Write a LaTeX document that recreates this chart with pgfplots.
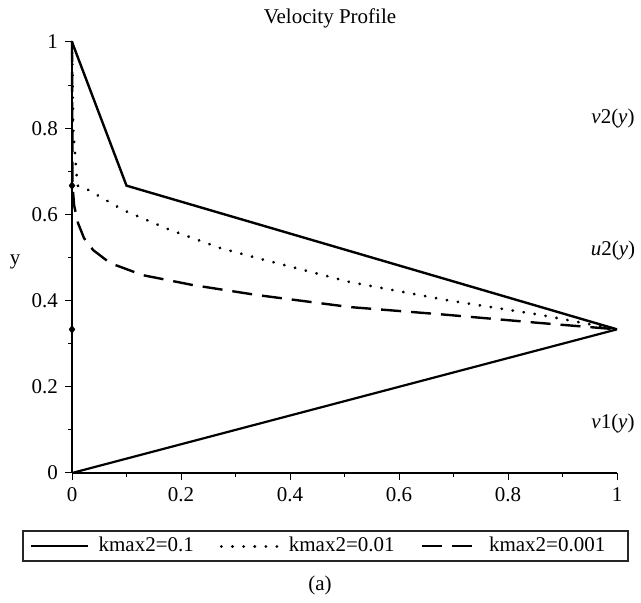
\documentclass[border=0pt]{standalone}
\usepackage{pgfplots}
\pgfplotsset{compat=1.18}
\usepackage{fontspec}
\setmainfont{Liberation Serif}

\begin{document}
\fontsize{21}{25}\selectfont
\begin{tikzpicture}[x=1pt,y=1pt]
  \path[use as bounding box] (0,0) rectangle (641,603);
  \begin{axis}[
    at={(72pt,130pt)}, anchor=south west,
    scale only axis, width=545pt, height=431pt,
    xmin=0, xmax=1, ymin=0, ymax=1,
    axis lines*=left,
    tick align=outside,
    xtick={0,0.2,0.4,0.6,0.8,1},
    ytick={0,0.2,0.4,0.6,0.8,1},
    minor tick num=1,
    major tick length=7pt, minor tick length=4pt,
    tick style={black, line width=1pt},
    axis line style={black, line width=1.3pt},
    /pgf/number format/assume math mode=true,
    ticklabel style={font=\fontsize{21}{25}\selectfont},
    clip=false,
    legend columns=3,
    legend style={at={(-0.077,-0.1694)}, anchor=west, draw=none, fill=none,
      inner sep=0pt, nodes={inner sep=0pt}, font=\fontsize{21}{25}\selectfont,
      /tikz/every odd column/.append style={column sep=9pt},
      /tikz/every even column/.append style={column sep=26pt}},
    legend cell align=left,
    legend image code/.code={\draw[#1] (0pt,0pt) -- (57pt,0pt);},
  ]
    % vertical line on the y axis and v1(y)
    \addplot[black, line width=2.2pt, forget plot] coordinates {(0,0) (0,1)};
    \addplot[black, line width=2.2pt, forget plot] coordinates {(0,0) (1,0.3333)};

    \addplot[black, line width=2.4pt] coordinates {(0,1) (0.1,0.6667) (1,0.3333)};
    \addlegendentry{kmax2=0.1}

    \addplot[black, line width=3pt, line cap=round, dash pattern=on 0.1pt off 11pt]
      coordinates {(0,1) (0.002,0.8) (0.01,0.6667) (0.024,0.661) (0.094,0.610)
        (0.18,0.564) (0.272,0.522) (0.339,0.499) (0.51,0.443) (0.688,0.401)
        (0.859,0.367) (0.938,0.348) (1,0.3333)};
    \addlegendentry{kmax2=0.01}

    \addplot[black, line width=2.4pt, dash pattern=on 20pt off 10pt]
      coordinates {(0,1) (0.001,0.6667) (0.004,0.62) (0.011,0.58) (0.022,0.545)
        (0.039,0.517) (0.07,0.487) (0.13,0.459) (0.222,0.436) (0.339,0.413)
        (0.51,0.385) (0.688,0.367) (0.859,0.348) (1,0.3333)};
    \addlegendentry{kmax2=0.001}

    \addplot[only marks, mark=diamond*, mark size=4pt, black, forget plot]
      coordinates {(0,0.6667) (0,0.3333)};
  \end{axis}
  \node at (330,585) {Velocity Profile};
  \node at (15,341) {y};
  \node at (613,485) {\textit{v}2(\textit{y})};
  \node at (613,353) {\textit{u}2(\textit{y})};
  \node at (613,180) {\textit{v}1(\textit{y})};
  \draw[black!85, line width=1.6pt] (23,42) rectangle (628,72);
  \node at (320,18) {(a)};
\end{tikzpicture}
\end{document}
